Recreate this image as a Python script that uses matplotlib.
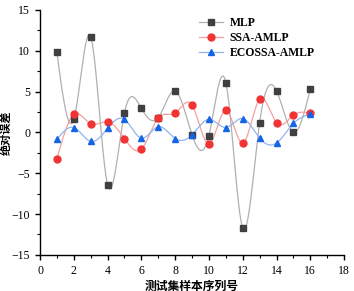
import numpy as np
import matplotlib
matplotlib.use("Agg")
import matplotlib.pyplot as plt
from matplotlib.ticker import MultipleLocator

x = np.arange(1, 17)
mlp = [9.8, 1.6, 11.7, -6.4, 2.4, 2.95, 1.8, 5.1, -0.3, -0.4, 6.1, -11.7, 1.2, 5.1, 0.0, 5.3]
ssa = [-3.25, 2.2, 1.05, 1.3, -0.75, -2.05, 1.8, 2.35, 3.35, -1.4, 2.7, -1.3, 4.05, 1.2, 2.1, 2.35]
eco = [-0.85, 0.6, -1.1, 0.5, 1.6, -0.7, 0.7, -0.75, -0.3, 1.6, 0.6, 1.7, -0.7, -1.3, 1.1, 2.25]
names = ["MLP", "SSA-AMLP", "ECOSSA-AMLP"]
xlabel = "测试集样本序列号"
ylabel = "绝对误差"


def natural_spline(xs, ys, n=400):
    xs = np.asarray(xs, float); ys = np.asarray(ys, float)
    m = len(xs); h = np.diff(xs)
    A = np.zeros((m, m)); b = np.zeros(m)
    A[0, 0] = A[-1, -1] = 1
    for i in range(1, m - 1):
        A[i, i - 1] = h[i - 1]; A[i, i] = 2 * (h[i - 1] + h[i]); A[i, i + 1] = h[i]
        b[i] = 6 * ((ys[i + 1] - ys[i]) / h[i] - (ys[i] - ys[i - 1]) / h[i - 1])
    M = np.linalg.solve(A, b)
    xx = np.linspace(xs[0], xs[-1], n)
    idx = np.clip(np.searchsorted(xs, xx) - 1, 0, m - 2)
    x0 = xs[idx]; x1 = xs[idx + 1]; hh = x1 - x0
    t0 = x1 - xx; t1 = xx - x0
    yy = (M[idx] * t0**3 + M[idx + 1] * t1**3) / (6 * hh) \
        + (ys[idx] / hh - M[idx] * hh / 6) * t0 + (ys[idx + 1] / hh - M[idx + 1] * hh / 6) * t1
    return xx, yy


plt.rcParams['font.family'] = ['Liberation Serif', 'Noto Sans CJK SC']
fig = plt.figure(figsize=(3.54, 2.91), dpi=100)
ax = fig.add_axes([0.113, 0.124, 0.859, 0.842])

styles = [
    dict(line="#b0b0b0", mk="#404040", marker="s", ms=4.5),
    dict(line="#f4a0a0", mk="#f03434", marker="o", ms=5),
    dict(line="#90b4ec", mk="#1464e6", marker="^", ms=5),
]
for ys, name, st in zip([mlp, ssa, eco], names, styles):
    xx, yy = natural_spline(x, ys)
    ax.plot(xx, yy, color=st["line"], lw=0.9, zorder=2)
    ax.plot(x, ys, linestyle="none", marker=st["marker"], color=st["mk"], ms=st["ms"], zorder=3)
    ax.plot([], [], color=st["line"], lw=0.9, marker=st["marker"], mfc=st["mk"], mec=st["mk"],
            ms=st["ms"], label=name)

ax.set_xlim(0, 18)
ax.set_ylim(-15, 15)
ax.xaxis.set_major_locator(MultipleLocator(2))
ax.xaxis.set_minor_locator(MultipleLocator(1))
ax.yaxis.set_major_locator(MultipleLocator(5))
ax.yaxis.set_minor_locator(MultipleLocator(2.5))
for s in ["top", "right"]:
    ax.spines[s].set_visible(False)
for s in ["left", "bottom"]:
    ax.spines[s].set_linewidth(1.0)
ax.tick_params(which="major", direction="out", length=3.5, width=1.0, labelsize=8.5)
ax.tick_params(which="minor", direction="out", length=2, width=0.8)
ax.set_xlabel(xlabel, family="Noto Sans CJK SC", fontsize=8.5, fontweight="bold", labelpad=2)
ax.set_ylabel(ylabel, family="Noto Sans CJK SC", fontsize=8, fontweight="bold")
ax.yaxis.set_label_coords(-0.088, 0.5)
leg = ax.legend(loc="upper left", bbox_to_anchor=(0.5, 1.0), frameon=False, fontsize=8.5,
                handlelength=2.0, handletextpad=0.6, labelspacing=0.25, borderaxespad=0.2)
for t in leg.get_texts():
    t.set_fontweight("bold")

fig.savefig("out.png", dpi=100)
